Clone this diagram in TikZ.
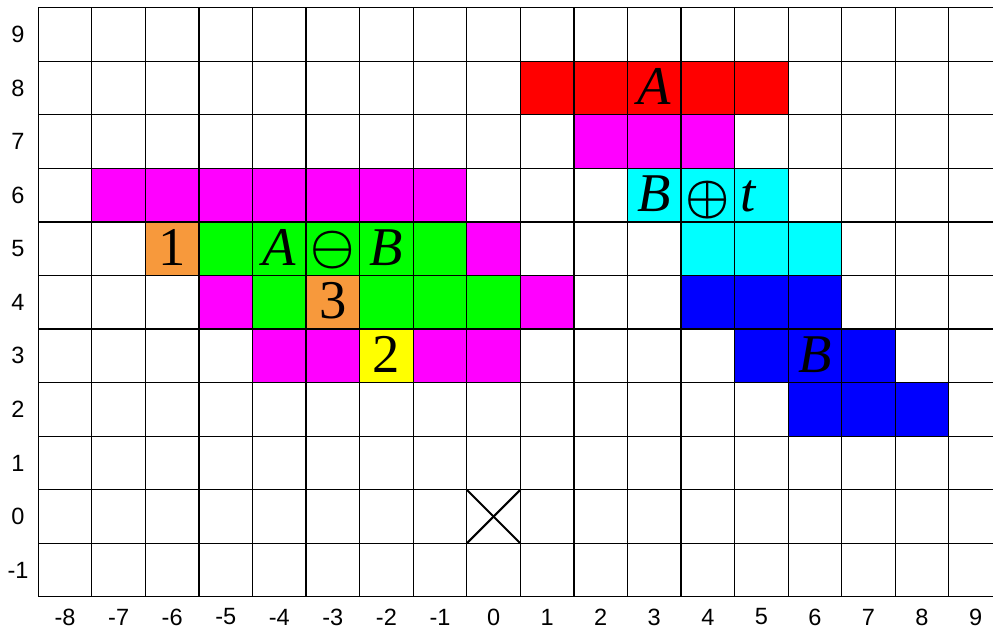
\documentclass[tikz,border=0pt]{standalone}
\usepackage{amsmath}
\usepackage{fontspec}
\setmainfont{Liberation Serif}
\newfontfamily\axisfont{Liberation Sans}
\newcommand{\bigop}[1]{\resizebox*{!}{0.71cm}{$\boldsymbol{#1}$}}

\begin{document}
\begin{tikzpicture}[
    x=1cm, y=1cm,
    glyph/.style={font=\fontsize{29}{30}\selectfont, inner sep=0pt, anchor=base},
    axislabel/.style={font=\axisfont\fontsize{12.5}{14}\selectfont, inner sep=0pt}
]

% Define colors
\definecolor{cellred}{RGB}{255,0,0}
\definecolor{cellmagenta}{RGB}{255,0,255}
\definecolor{cellcyan}{RGB}{0,255,255}
\definecolor{cellblue}{RGB}{0,0,255}
\definecolor{cellgreen}{RGB}{0,255,0}
\definecolor{cellorange}{RGB}{247,153,60}
\definecolor{cellyellow}{RGB}{255,255,0}

% Picture frame (grid runs past the right edge)
\useasboundingbox (-9.215,-2.119) rectangle (9.325,9.644);

% Set A (top right)
\foreach \x in {1,...,5} {
    \fill[cellred] (\x-0.5,7.5) rectangle ++(1,1);
}
\foreach \x in {2,3,4} {
    \fill[cellmagenta] (\x-0.5,6.5) rectangle ++(1,1);
}

% B translated by t
\foreach \x/\y in {3/6,4/6,5/6,4/5,5/5,6/5} {
    \fill[cellcyan] (\x-0.5,\y-0.5) rectangle ++(1,1);
}

% Set B
\foreach \x/\y in {4/4,5/4,6/4,5/3,6/3,7/3,6/2,7/2,8/2} {
    \fill[cellblue] (\x-0.5,\y-0.5) rectangle ++(1,1);
}

% Erosion A minus B (left)
\foreach \x/\y in {-7/6,-6/6,-5/6,-4/6,-3/6,-2/6,-1/6,0/5,-5/4,1/4,-4/3,-3/3,-1/3,0/3} {
    \fill[cellmagenta] (\x-0.5,\y-0.5) rectangle ++(1,1);
}
\foreach \x/\y in {-5/5,-4/5,-3/5,-2/5,-1/5,-4/4,-2/4,-1/4,0/4} {
    \fill[cellgreen] (\x-0.5,\y-0.5) rectangle ++(1,1);
}
\fill[cellorange] (-6.5,4.5) rectangle ++(1,1);
\fill[cellorange] (-3.5,3.5) rectangle ++(1,1);
\fill[cellyellow] (-2.5,2.5) rectangle ++(1,1);

% Grid
\draw[line width=0.65pt, xshift=-0.5cm, yshift=-0.5cm] (-8,-1) grid (10,10);

% Origin mark
\coordinate (o1) at (-0.5,-0.5);
\coordinate (o2) at (0.5,0.5);
\coordinate (o3) at (-0.5,0.5);
\coordinate (o4) at (0.5,-0.5);
\draw[line width=1.1pt] (o1) -- (o2);
\draw[line width=1.1pt] (o3) -- (o4);

% Axis labels
\foreach \x in {-8,...,9} {
    \node[axislabel] (xl\x) at (\x,-1.876) {\x};
}
\foreach \y in {-1,...,9} {
    \node[axislabel] (yl\y) at (-8.879,\y) {\y};
}

% Cell texts
\node[glyph] (labA) at (3,7.69) {\textit{A}};
\node[glyph] (labBt1) at (3,5.69) {\textit{B}};
\node[glyph, anchor=center] (labBt2) at (4,5.91) {\bigop{\oplus}};
\node[glyph] (labBt3) at (4.76,5.69) {\textit{t}};
\node[glyph] (labB) at (6,2.69) {\textit{B}};
\node[glyph] (labAB1) at (-4,4.69) {\textit{A}};
\node[glyph, anchor=center] (labAB2) at (-3,4.976) {\bigop{\ominus}};
\node[glyph] (labAB3) at (-2,4.69) {\textit{B}};
\node[glyph] (num1) at (-6,4.69) {1};
\node[glyph] (num3) at (-3,3.69) {3};
\node[glyph] (num2) at (-2,2.69) {2};

\end{tikzpicture}
\end{document}
